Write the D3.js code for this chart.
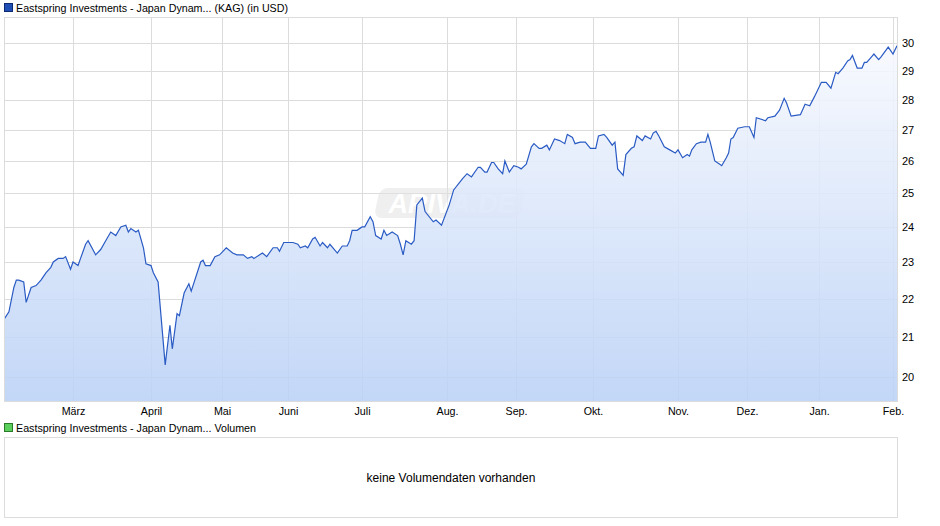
<!DOCTYPE html>
<html>
<head>
<meta charset="utf-8">
<script src="https://cdn.jsdelivr.net/npm/d3@7"></script>
<style>
  body { margin: 0; background: #fff; font-family: "Liberation Sans", Arial, sans-serif; }
  svg text { font-family: "Liberation Sans", Arial, sans-serif; fill: #000; }
</style>
</head>
<body>
<svg id="chart" width="940" height="526"></svg>
<script>
// Kursdaten (Datum, Schlusskurs in USD)
const dates = [
  "2025-02-01","2025-02-03","2025-02-05","2025-02-06","2025-02-07","2025-02-09","2025-02-10","2025-02-12","2025-02-14","2025-02-16","2025-02-18","2025-02-20","2025-02-21","2025-02-23","2025-02-25","2025-02-26","2025-02-28",
  "2025-03-01","2025-03-03","2025-03-04","2025-03-06","2025-03-07","2025-03-10","2025-03-12","2025-03-14","2025-03-16","2025-03-18","2025-03-20","2025-03-22","2025-03-23","2025-03-24","2025-03-26","2025-03-27","2025-03-29","2025-03-30",
  "2025-04-01","2025-04-02","2025-04-04","2025-04-07","2025-04-09","2025-04-10","2025-04-12","2025-04-13","2025-04-15","2025-04-17","2025-04-18","2025-04-22","2025-04-23","2025-04-24","2025-04-26","2025-04-28","2025-04-30",
  "2025-05-03","2025-05-06","2025-05-08","2025-05-11","2025-05-13","2025-05-15","2025-05-16","2025-05-20","2025-05-22","2025-05-25","2025-05-27","2025-05-28","2025-05-30",
  "2025-06-03","2025-06-05","2025-06-06","2025-06-08","2025-06-09","2025-06-11","2025-06-12","2025-06-14","2025-06-15","2025-06-17","2025-06-18","2025-06-21","2025-06-23","2025-06-25","2025-06-26","2025-06-27","2025-06-29",
  "2025-07-01","2025-07-02","2025-07-04","2025-07-05","2025-07-06","2025-07-08","2025-07-09","2025-07-10","2025-07-12","2025-07-14","2025-07-15","2025-07-16","2025-07-17","2025-07-19","2025-07-20","2025-07-21","2025-07-23","2025-07-24","2025-07-27","2025-07-28","2025-07-30",
  "2025-08-02","2025-08-04","2025-08-08","2025-08-10","2025-08-12","2025-08-15","2025-08-16","2025-08-18","2025-08-19","2025-08-21","2025-08-22","2025-08-24","2025-08-26","2025-08-27","2025-08-29","2025-08-31",
  "2025-09-02","2025-09-03","2025-09-05","2025-09-07","2025-09-08","2025-09-10","2025-09-11","2025-09-13","2025-09-14","2025-09-16","2025-09-18","2025-09-20","2025-09-21","2025-09-23","2025-09-24","2025-09-26","2025-09-28","2025-09-30",
  "2025-10-02","2025-10-03","2025-10-05","2025-10-06","2025-10-08","2025-10-09","2025-10-10","2025-10-12","2025-10-13","2025-10-15","2025-10-16","2025-10-17","2025-10-19","2025-10-20","2025-10-22","2025-10-23","2025-10-24","2025-10-25","2025-10-27","2025-10-29","2025-10-31",
  "2025-11-01","2025-11-03","2025-11-05","2025-11-06","2025-11-07","2025-11-09","2025-11-11","2025-11-13","2025-11-14","2025-11-15","2025-11-17","2025-11-19","2025-11-20","2025-11-22","2025-11-23","2025-11-24","2025-11-25","2025-11-27","2025-11-30",
  "2025-12-02","2025-12-04","2025-12-05","2025-12-09","2025-12-10","2025-12-13","2025-12-15","2025-12-17","2025-12-18","2025-12-20","2025-12-24","2025-12-26","2025-12-28","2025-12-30",
  "2026-01-02","2026-01-04","2026-01-06","2026-01-08","2026-01-09","2026-01-11","2026-01-13","2026-01-14","2026-01-15","2026-01-17","2026-01-19","2026-01-20","2026-01-21","2026-01-23","2026-01-24","2026-01-26","2026-01-27","2026-01-30",
  "2026-02-01","2026-02-03"
];
const prices = [
  21.45,21.65,22.3,22.5,22.5,22.45,21.9,22.3,22.35,22.5,22.7,22.85,23.0,23.1,23.1,23.15,22.8,
  23.0,22.9,23.1,23.5,23.6,23.2,23.35,23.6,23.85,23.75,24.0,24.05,23.85,23.95,23.85,23.9,23.4,22.95,
  22.9,22.7,22.45,20.3,21.3,20.7,21.6,21.55,22.15,22.4,22.2,23.0,23.05,22.9,22.9,23.15,23.2,
  23.4,23.25,23.2,23.2,23.1,23.15,23.1,23.25,23.15,23.4,23.4,23.3,23.55,
  23.55,23.5,23.4,23.45,23.4,23.65,23.7,23.45,23.55,23.4,23.5,23.25,23.45,23.45,23.6,23.9,23.9,
  24.0,24.0,24.3,24.15,23.75,23.65,23.9,23.75,23.85,23.75,23.5,23.2,23.6,23.5,23.6,24.65,24.85,24.45,24.15,24.2,24.05,
  24.65,25.1,25.45,25.6,25.5,25.8,25.8,25.65,25.65,25.95,25.95,25.75,25.6,26.0,25.65,25.85,
  25.8,25.75,25.9,26.45,26.55,26.4,26.4,26.5,26.35,26.7,26.65,26.55,26.85,26.75,26.55,26.6,26.6,26.4,
  26.4,26.8,26.85,26.75,26.5,26.6,25.75,25.55,26.2,26.4,26.45,26.8,26.65,26.8,26.7,26.9,26.95,26.8,26.45,26.35,26.25,
  26.35,26.1,26.2,26.15,26.35,26.55,26.6,26.6,26.85,26.6,26.0,25.9,25.85,26.1,26.25,26.7,26.75,27.05,27.1,
  27.1,26.75,27.4,27.3,27.4,27.45,27.65,28.05,27.9,27.45,27.5,27.85,27.8,28.1,
  28.6,28.6,28.4,28.95,28.9,29.1,29.35,29.4,29.55,29.1,29.1,29.3,29.3,29.5,29.6,29.4,29.5,29.85,
  29.6,29.9
];
const yTicks = [20, 21, 22, 23, 24, 25, 26, 27, 28, 29, 30];
const monthTicks = ["2025-03-01","2025-04-01","2025-05-01","2025-06-01","2025-07-01","2025-08-01",
  "2025-09-01","2025-10-01","2025-11-01","2025-12-01","2026-01-01","2026-02-01"];
const monthLabels = ["März","April","Mai","Juni","Juli","Aug.","Sep.","Okt.","Nov.","Dez.","Jan.","Feb."];

const parse = d3.utcParse("%Y-%m-%d");
const data = dates.map((d, i) => ({ date: parse(d), value: prices[i] }));

const svg = d3.select("#chart");
const pLeft = 4, pRight = 898, pTop = 17, pBottom = 401;

// Achse läuft nach Handelstagen, daher Monatsbreiten ungleich -> stückweise Zeitskala
const xBreaks = ["2025-02-01", ...monthTicks, "2026-02-03"].map(parse);
const xRange = [4, 73, 151, 222, 288, 362, 447, 516, 593, 678, 747, 819, 893, 897];
const x = d3.scaleUtc().domain(xBreaks).range(xRange);
const y = d3.scaleLog().domain([19.43, 30.96]).range([pBottom, pTop]);

const defs = svg.append("defs");
const grad = defs.append("linearGradient").attr("id", "fillGrad")
  .attr("x1", 0).attr("y1", 0).attr("x2", 0).attr("y2", 1);
grad.append("stop").attr("offset", "0%").attr("stop-color", "#f7f9fe");
grad.append("stop").attr("offset", "100%").attr("stop-color", "#bad1f6");
defs.append("clipPath").attr("id", "plotClip").append("rect")
  .attr("x", pLeft).attr("y", pTop).attr("width", pRight - pLeft).attr("height", pBottom - pTop);

// Gitter
const grid = svg.append("g");
grid.selectAll(".hg").data(yTicks).enter().append("line")
  .attr("x1", pLeft).attr("x2", pRight)
  .attr("y1", d => Math.round(y(d)) + 0.5).attr("y2", d => Math.round(y(d)) + 0.5)
  .attr("stroke", "#dcdcdc");
grid.selectAll(".vg").data(monthTicks.map(parse)).enter().append("line")
  .attr("x1", d => Math.round(x(d)) + 0.5).attr("x2", d => Math.round(x(d)) + 0.5)
  .attr("y1", pTop).attr("y2", pBottom)
  .attr("stroke", "#dcdcdc");

// Wasserzeichen
const wm = svg.append("g").attr("opacity", 0.55);
wm.append("rect").attr("x", 378).attr("y", 188).attr("width", 146).attr("height", 30)
  .attr("rx", 8).attr("fill", "#e2e2e2").attr("transform", "skewX(-12) translate(42,0)");
wm.append("text").attr("x", 452).attr("y", 213).attr("text-anchor", "middle")
  .attr("font-size", 27).attr("font-weight", "bold").attr("font-style", "italic")
  .style("fill", "#fff").text("ARIVA.DE");

const plot = svg.append("g").attr("clip-path", "url(#plotClip)");
plot.append("path").datum(data)
  .attr("fill", "url(#fillGrad)").attr("opacity", 0.88)
  .attr("d", d3.area().x(d => x(d.date)).y0(pBottom).y1(d => y(d.value)));

plot.append("path").datum(data)
  .attr("fill", "none").attr("stroke", "#2a5bc4").attr("stroke-width", 1.2)
  .attr("d", d3.line().x(d => x(d.date)).y(d => y(d.value)));

svg.append("rect").attr("x", pLeft + 0.5).attr("y", pTop + 0.5)
  .attr("width", pRight - pLeft - 1).attr("height", pBottom - pTop)
  .attr("fill", "none").attr("stroke", "#dcdcdc");

// Achsen
const yAxis = d3.axisRight(y).tickValues(yTicks).tickFormat(d3.format("d")).tickSize(0).tickPadding(4);
svg.append("g").attr("transform", `translate(${pRight},0)`).call(yAxis)
  .call(g => g.select(".domain").remove())
  .selectAll("text").attr("font-size", 11).style("fill", "#000");

const xAxis = d3.axisBottom(x).tickValues(monthTicks.map(parse))
  .tickFormat((d, i) => monthLabels[i]).tickSize(0).tickPadding(6);
svg.append("g").attr("transform", `translate(0,${pBottom})`).call(xAxis)
  .call(g => g.select(".domain").remove())
  .selectAll("text").attr("font-size", 10.7).style("fill", "#000");

// Legenden
function legend(yPos, color, border, label) {
  svg.append("rect").attr("x", 4.5).attr("y", yPos - 8.5).attr("width", 8).attr("height", 8)
    .attr("fill", color).attr("stroke", border);
  svg.append("text").attr("x", 16).attr("y", yPos).attr("font-size", 10.7).text(label);
}
legend(12, "#1f4fb5", "#0c2a70", "Eastspring Investments - Japan Dynam... (KAG) (in USD)");
legend(432, "#5bcf5b", "#2a7a2a", "Eastspring Investments - Japan Dynam... Volumen");

// Volumen-Panel
svg.append("rect").attr("x", 4.5).attr("y", 437.5).attr("width", 893).attr("height", 80)
  .attr("fill", "#fff").attr("stroke", "#dcdcdc");
svg.append("text").attr("x", 451).attr("y", 482).attr("text-anchor", "middle")
  .attr("font-size", 12).text("keine Volumendaten vorhanden");
</script>
</body>
</html>
